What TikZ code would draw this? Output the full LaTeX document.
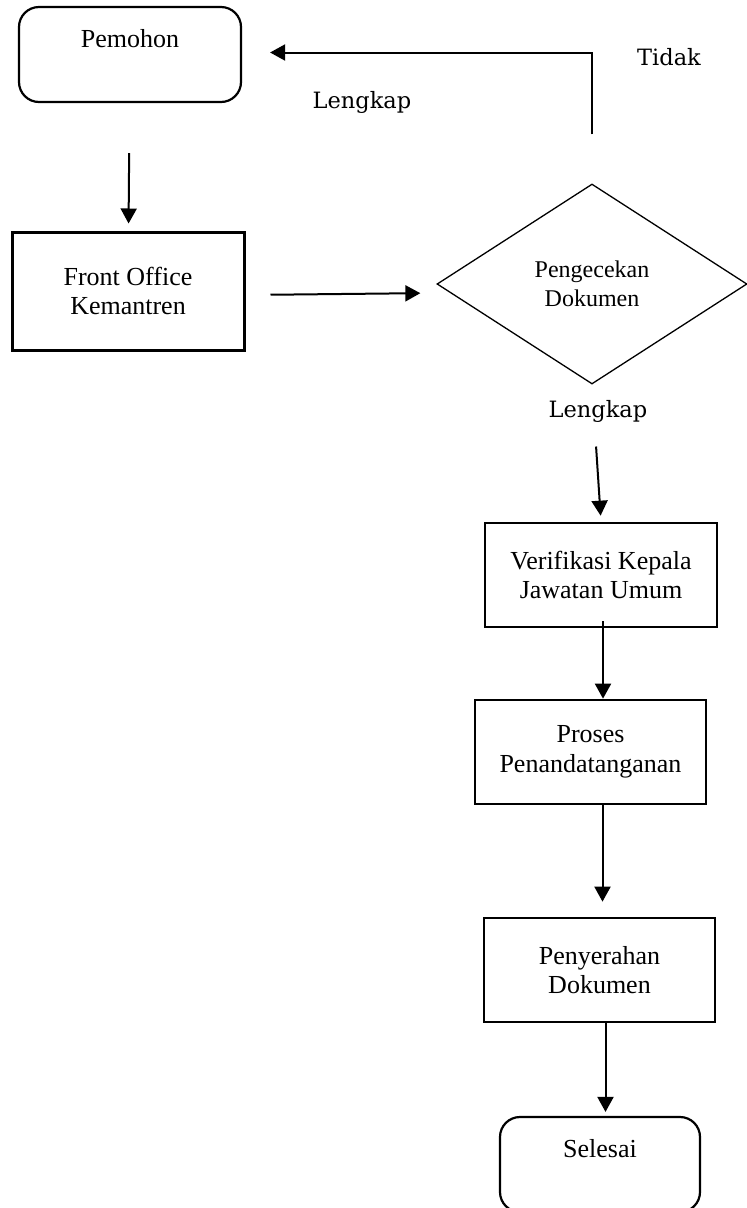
\documentclass[tikz,border=0pt]{standalone}
\usepackage{fontspec}
\setmainfont{Liberation Serif}
\newfontfamily\answerfont{DejaVu Serif}
\usepackage{tikz}
\usetikzlibrary{shapes.geometric, arrows.meta, positioning, calc}

\begin{document}
\begin{tikzpicture}[
  x=1pt, y=-1pt,
  box/.style={draw, line width=2.7pt, minimum width=231pt, minimum height=104pt, inner sep=0pt, align=center, font=\fontsize{26}{29.5}\selectfont},
  endbox/.style={draw, rounded corners=20pt, line width=2.2pt, minimum height=95pt, inner sep=0pt, text height=18pt, text depth=32pt, align=center, font=\fontsize{26}{29.5}\selectfont},
  decision/.style={draw, diamond, line width=1.3pt, minimum width=310pt, minimum height=200pt, inner sep=0pt, align=center, font=\fontsize{24}{29}\selectfont},
  answer/.style={font=\answerfont\fontsize{22.5}{26}\selectfont},
  arrow/.style={-{Triangle[width=16pt,length=15pt]}, line width=2pt}
]
  \useasboundingbox (0,0) rectangle (747,1208);

  \node[endbox, minimum width=222pt] (pemohon) at (130,54.5) {Pemohon};
  \node[box, line width=3pt, minimum width=232pt, minimum height=118pt] (fo) at (128,291) {Front Office\\Kemantren};
  \node[decision] (cek) at (592,284) {Pengecekan\\Dokumen};
  \node[box, minimum width=232pt] (ver) at (601,575) {Verifikasi Kepala\\Jawatan Umum};
  \node[box] (pros) at (590.5,752) {Proses\\Penandatanganan};
  \node[box] (pen) at (599.5,970) {Penyerahan\\Dokumen};
  \node[endbox, minimum width=200pt] (sel) at (600,1164.5) {Selesai};

  \node[answer] (lengkapatas) at (362,102) {Lengkap};
  \node[answer] (tidak) at (669,57) {Tidak};
  \node[answer] (lengkapbawah) at (598,411) {Lengkap};

  \draw[arrow, shorten <=50pt, shorten >=7pt] (pemohon) -- (fo);
  \draw[arrow, shorten <=25pt, shorten >=16pt] ([yshift=-4pt]fo.east) -- ([yshift=-9pt]cek.west);
  \draw[arrow, shorten <=49pt, shorten >=28pt] (cek.north) |- ([yshift=2pt]pemohon.east);
  \draw[arrow, shorten <=62pt, shorten >=6pt] (cek.south) -- (ver.north);
  \draw[arrow, shorten <=-7pt] ([xshift=2pt]ver.south) -- ([xshift=2pt]ver.south |- pros.north);
  \draw[arrow, shorten >=15pt] ([xshift=3pt]pen.north |- pros.south) -- ([xshift=3pt]pen.north);
  \draw[arrow, shorten >=4pt] ([xshift=6pt]pen.south) -- ([xshift=6pt]pen.south |- sel.north);
\end{tikzpicture}
\end{document}
